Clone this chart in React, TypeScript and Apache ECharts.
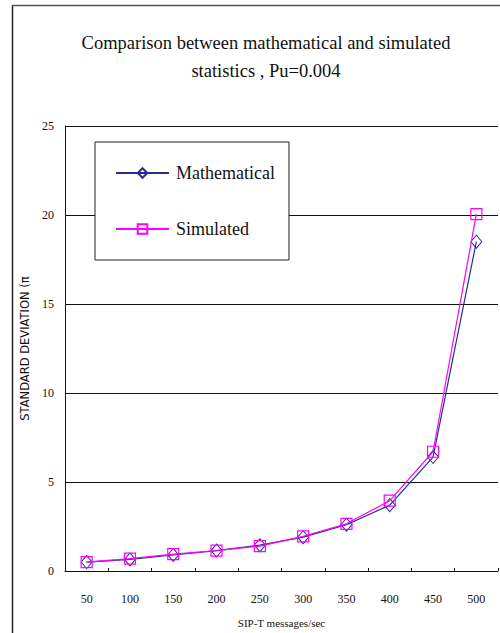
import React, { useEffect, useRef } from "react";
import * as echarts from "echarts";

const categories = ["50", "100", "150", "200", "250", "300", "350", "400", "450", "500"];
const mathematical = [0.5, 0.65, 0.9, 1.15, 1.45, 1.9, 2.6, 3.7, 6.4, 18.5];
const simulated = [0.5, 0.7, 0.95, 1.15, 1.4, 1.95, 2.65, 3.95, 6.7, 20.05];
const yTicks = { min: 0, max: 25, interval: 5 };

const titleText = "Comparison between mathematical and simulated\nstatistics , Pu=0.004";
const xName = "SIP-T messages/sec";
const yName = "STANDARD DEVIATION (π";

export default function App() {
  const ref = useRef<HTMLDivElement>(null);
  useEffect(() => {
    if (!ref.current) return;
    const chart = echarts.init(ref.current, undefined, { renderer: "svg" });
    const serif = "Liberation Serif";
    chart.setOption({
      animation: false,
      backgroundColor: "#fff",
      title: {
        text: titleText,
        left: 261,
        top: 24,
        textAlign: "center",
        textStyle: {
          fontFamily: serif,
          fontWeight: "normal",
          fontSize: 18.5,
          lineHeight: 28,
          color: "#111",
        },
      },
      graphic: [
        { type: "line", shape: { x1: 12.5, y1: 5, x2: 12.5, y2: 633 }, style: { stroke: "#222", lineWidth: 1.5 } },
        { type: "line", shape: { x1: 12, y1: 5.5, x2: 500, y2: 5.5 }, style: { stroke: "#555", lineWidth: 1.5 } },
      ],
      legend: {
        orient: "vertical",
        left: 95,
        top: 142,
        backgroundColor: "#fff",
        borderColor: "#222",
        borderWidth: 1,
        padding: [22, 14, 22, 20],
        itemGap: 38,
        itemWidth: 53,
        itemHeight: 12,
        textStyle: { fontFamily: serif, fontSize: 18, color: "#111", padding: [0, 0, 0, 2] },
        data: ["Mathematical", "Simulated"],
      },
      grid: { left: 65, right: 2, top: 126, bottom: 61 },
      xAxis: {
        type: "category",
        data: categories,
        boundaryGap: true,
        name: xName,
        nameLocation: "middle",
        nameGap: 46,
        nameTextStyle: { fontFamily: serif, fontSize: 11, color: "#111" },
        axisLine: { lineStyle: { color: "#111", width: 1 } },
        axisTick: { show: true, inside: true, length: 3, lineStyle: { color: "#111" } },
        axisLabel: { fontFamily: serif, fontSize: 12, color: "#111", margin: 22 },
        splitLine: { show: false },
      },
      yAxis: {
        type: "value",
        min: yTicks.min,
        max: yTicks.max,
        interval: yTicks.interval,
        name: yName,
        nameLocation: "middle",
        nameGap: 29,
        nameRotate: 90,
        nameTextStyle: { fontFamily: "DejaVu Sans", fontSize: 11.5, color: "#111" },
        axisLine: { show: true, lineStyle: { color: "#111", width: 1 } },
        axisTick: { show: false },
        axisLabel: { fontFamily: serif, fontSize: 12, color: "#111", margin: 11 },
        splitLine: { show: true, lineStyle: { color: "#111", width: 1 } },
      },
      series: [
        {
          name: "Mathematical",
          type: "line",
          data: mathematical,
          symbol: "diamond",
          symbolSize: [11, 13],
          lineStyle: { color: "#2B2B8C", width: 1.2 },
          itemStyle: { color: "rgba(255,255,255,0)", borderColor: "#2B2B8C", borderWidth: 1 },
          z: 2,
        },
        {
          name: "Simulated",
          type: "line",
          data: simulated,
          symbol: "rect",
          symbolSize: 11,
          lineStyle: { color: "#FF00FF", width: 1.2 },
          itemStyle: { color: "rgba(255,255,255,0)", borderColor: "#FF00FF", borderWidth: 1.2 },
          z: 3,
        },
      ],
    });
    return () => chart.dispose();
  }, []);
  return (
    <div
      ref={ref}
      style={{ position: "absolute", left: 0, top: 0, width: 500, height: 633 }}
    />
  );
}
